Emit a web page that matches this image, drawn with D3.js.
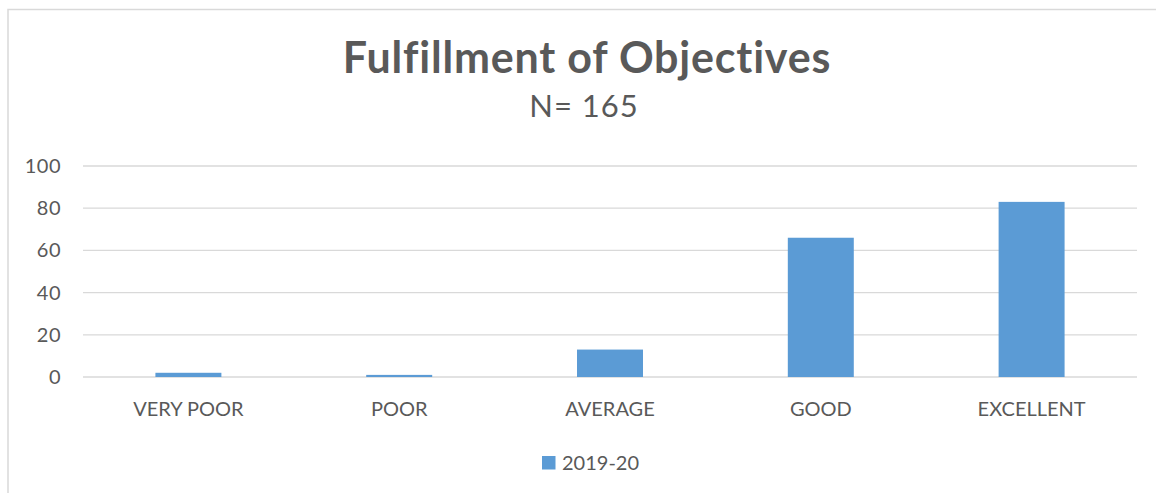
<!DOCTYPE html>
<html>
<head>
<meta charset="utf-8">
<script src="https://cdn.jsdelivr.net/npm/d3@7"></script>
<style>
  body { margin: 0; background: #fff; }
  svg { display: block; font-family: Lato, "Open Sans", sans-serif; }
</style>
</head>
<body>
<div id="chart"></div>
<script>
const width = 1156;
const height = 493;

// data
const categories = ["VERY POOR", "POOR", "AVERAGE", "GOOD", "EXCELLENT"];
const values2019 = [2, 1, 13, 66, 83];
const yTicks = [0, 20, 40, 60, 80, 100];
const seriesName = "2019-20";

const margin = {top: 166, right: 19, bottom: 116, left: 83};

const svg = d3.select("#chart")
    .append("svg")
    .attr("width", width)
    .attr("height", height);

// chart frame
svg.append("rect")
    .attr("x", 8)
    .attr("y", 9.5)
    .attr("width", width + 20)
    .attr("height", height + 20)
    .attr("fill", "none")
    .attr("stroke", "#d9d9d9")
    .attr("stroke-width", 1.5);

const x = d3.scaleBand()
    .domain(categories)
    .range([margin.left, width - margin.right])
    .paddingInner(0.687)
    .paddingOuter(0.687 / 2);

const y = d3.scaleLinear()
    .domain([0, 100])
    .range([height - margin.bottom, margin.top]);

// gridlines
svg.append("g")
    .selectAll("line")
    .data(yTicks)
    .enter()
    .append("line")
    .attr("x1", margin.left)
    .attr("x2", width - margin.right)
    .attr("y1", d => y(d))
    .attr("y2", d => y(d))
    .attr("stroke", "#d9d9d9")
    .attr("stroke-width", 1.3);

// y axis labels
const yAxis = d3.axisLeft(y).tickValues(yTicks).tickSize(0).tickPadding(0);
svg.append("g")
    .attr("transform", `translate(${margin.left - 22},0)`)
    .call(yAxis)
    .call(g => g.select(".domain").remove())
    .selectAll("text")
    .attr("fill", "#595959")
    .style("font-size", "20px")
    .style("letter-spacing", "0.5px")
    .style("font-family", "Lato, sans-serif");

// bars
svg.append("g")
    .selectAll("rect")
    .data(values2019)
    .enter()
    .append("rect")
    .attr("x", (d, i) => x(categories[i]))
    .attr("y", d => y(d))
    .attr("width", x.bandwidth())
    .attr("height", d => y(0) - y(d))
    .attr("fill", "#5b9bd5");

// x axis labels
const xAxis = d3.axisBottom(x).tickSize(0).tickPadding(0);
svg.append("g")
    .attr("transform", `translate(0,${y(0) + 39})`)
    .call(xAxis)
    .call(g => g.select(".domain").remove())
    .selectAll("text")
    .attr("dy", 0)
    .attr("fill", "#595959")
    .style("font-size", "20px")
    .style("font-family", "Lato, sans-serif");

// title
svg.append("text")
    .attr("x", 587)
    .attr("y", 73)
    .attr("text-anchor", "middle")
    .attr("fill", "#595959")
    .style("font-size", "43px")
    .style("letter-spacing", "0.8px")
    .style("font-weight", "bold")
    .text("Fulfillment of Objectives");

svg.append("text")
    .attr("x", 584)
    .attr("y", 117)
    .attr("text-anchor", "middle")
    .attr("fill", "#595959")
    .style("font-size", "31px")
    .style("letter-spacing", "1px")
    .text("N= 165");

// legend
const legend = svg.append("g").attr("transform", "translate(542,456)");
legend.append("rect")
    .attr("width", 13.5)
    .attr("height", 13.5)
    .attr("fill", "#5b9bd5");
legend.append("text")
    .attr("x", 20)
    .attr("y", 13.5)
    .attr("fill", "#595959")
    .style("font-size", "20px")
    .text(seriesName);
</script>
</body>
</html>
